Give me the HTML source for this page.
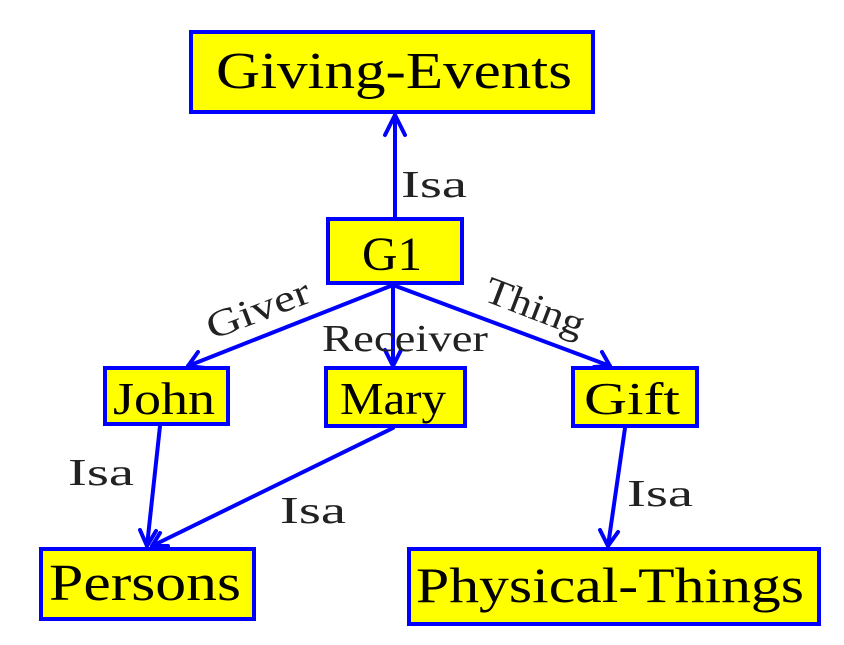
<!DOCTYPE html>
<html><head><meta charset="utf-8"><style>html,body{margin:0;padding:0;background:#fff;width:844px;height:645px;overflow:hidden}</style></head>
<body>
<svg width="844" height="645" viewBox="0 0 844 645" xmlns="http://www.w3.org/2000/svg" font-family="Liberation Serif, serif">
<g fill="#ffff00" stroke="#0000ff" stroke-width="4">
<rect x="191" y="32" width="402" height="80"/>
<rect x="328" y="219" width="134" height="64"/>
<rect x="105" y="368" width="123" height="56"/>
<rect x="326" y="368" width="139" height="58"/>
<rect x="573" y="368" width="124" height="58"/>
<rect x="41" y="549" width="213" height="70"/>
<rect x="409" y="549" width="410" height="75"/>
</g>
<g stroke="#0000ff" stroke-width="4" fill="none" stroke-linecap="round" stroke-linejoin="round">
<line x1="395" y1="217" x2="395" y2="115"/><polyline points="385,135 395,115 405,135"/>
<line x1="393" y1="285" x2="188" y2="366"/><polyline points="198,352 188,366 205,368"/>
<line x1="393" y1="285" x2="393" y2="366"/><polyline points="385,350 393,366 401,350"/>
<line x1="393" y1="285" x2="610" y2="366"/><polyline points="594,367 610,366 602,352"/>
<line x1="160" y1="426" x2="147" y2="546"/><polyline points="140,530 147,546 156,531"/>
<line x1="393" y1="428" x2="152" y2="546"/><polyline points="160,533 152,546 168,546"/>
<line x1="625" y1="428" x2="608" y2="546"/><polyline points="600,530 608,546 618,532"/>
</g>
<g fill="#000">
<text x="216" y="88" font-size="52" textLength="356" lengthAdjust="spacingAndGlyphs">Giving-Events</text>
<text x="362" y="270" font-size="48" textLength="60" lengthAdjust="spacingAndGlyphs">G1</text>
<text x="113" y="414" font-size="46" textLength="102" lengthAdjust="spacingAndGlyphs">John</text>
<text x="340" y="414" font-size="46" textLength="106" lengthAdjust="spacingAndGlyphs">Mary</text>
<text x="584" y="414" font-size="46" textLength="96" lengthAdjust="spacingAndGlyphs">Gift</text>
<text x="49" y="600" font-size="52" textLength="192" lengthAdjust="spacingAndGlyphs">Persons</text>
<text x="416" y="602" font-size="50" textLength="388" lengthAdjust="spacingAndGlyphs">Physical-Things</text>
</g>
<g fill="#222" font-size="38">
<text x="401" y="197" textLength="66" lengthAdjust="spacingAndGlyphs">Isa</text>
<text x="322" y="351" textLength="166" lengthAdjust="spacingAndGlyphs">Receiver</text>
<text x="68" y="485" textLength="66" lengthAdjust="spacingAndGlyphs">Isa</text>
<text x="280" y="523" textLength="66" lengthAdjust="spacingAndGlyphs">Isa</text>
<text x="627" y="506" textLength="66" lengthAdjust="spacingAndGlyphs">Isa</text>
<text transform="translate(212,340) rotate(-21)" textLength="108" lengthAdjust="spacingAndGlyphs">Giver</text>
<text transform="translate(482,300) rotate(21)" textLength="104" lengthAdjust="spacingAndGlyphs">Thing</text>
</g>
</svg>
</body></html>
